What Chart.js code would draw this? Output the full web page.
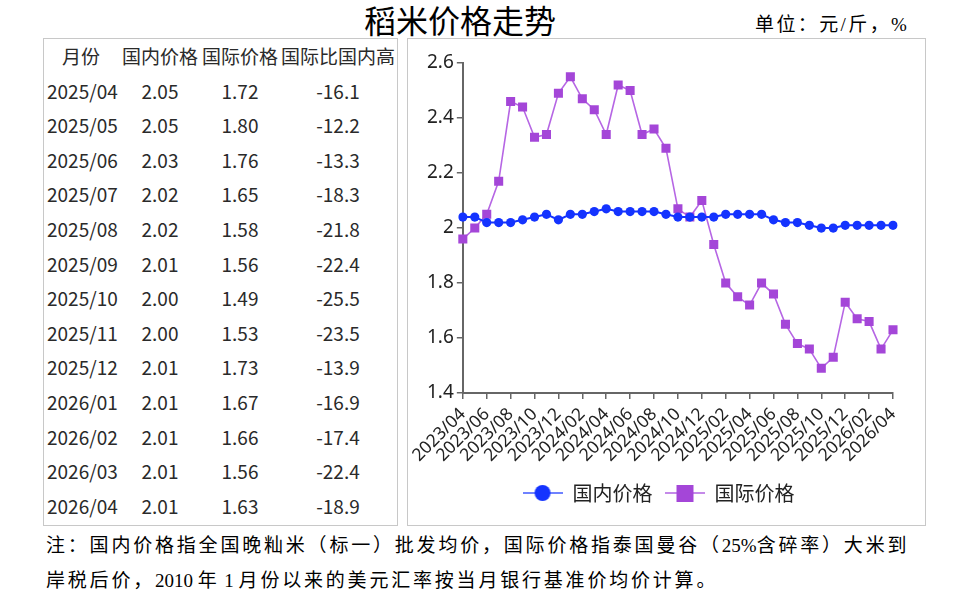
<!DOCTYPE html>
<html>
<head>
<meta charset="utf-8">
<script src="https://cdn.jsdelivr.net/npm/chart.js@4.4.1/dist/chart.umd.min.js"></script>
<style>
    body { margin: 0; width: 965px; height: 598px; background: #fff; position: relative; overflow: hidden;
           font-family: "Noto Sans CJK SC", "Noto Sans", sans-serif; color: #222; }
    #title { position: absolute; left: 310px; width: 300px; top: -4px; text-align: center; font-size: 32px; color: #000; }
    #unit { position: absolute; left: 755px; top: 9px; font-size: 19px; letter-spacing: 2.4px; font-family: "Liberation Serif", "Noto Sans CJK SC", serif; color: #000; }
    #table-box { position: absolute; left: 43px; top: 38px; width: 353px; height: 486px; border: 1px solid #c8c8c8; }
    #table-box .cell { position: absolute; font-size: 19px; line-height: 34.6px; white-space: nowrap; color: #2a2a2a; }
    #chart-box { position: absolute; left: 407px; top: 38px; width: 517px; height: 486px; border: 1px solid #c8c8c8; }
    #chart-wrap { position: absolute; left: 0; top: 0; width: 517px; height: 486px; }
    .note { position: absolute; left: 46px; font-size: 19px; color: #000; white-space: nowrap;
            font-family: "Liberation Serif", "Noto Sans CJK SC", serif; letter-spacing: 2.8px; }
    .note .n { letter-spacing: 0; }
</style>
</head>
<body>
<div id="title">稻米价格走势</div>
<div id="unit">单位：元/斤，%</div>
<div id="table-box"></div>
<div id="chart-box"><div id="chart-wrap"><canvas id="riceChart"></canvas></div></div>
<div class="note" style="top:530px;">注：国内价格指全国晚籼米（标一）批发均价，国际价格指泰国曼谷（<span class="n">25%</span>含碎率）大米到</div>
<div class="note" style="top:565px;">岸税后价，<span class="n">2010 </span>年<span class="n"> 1 </span>月份以来的美元汇率按当月银行基准价均价计算。</div>

<script>
    // ------------------ DATA ------------------
    const months = [
        '2023/04', '2023/05', '2023/06', '2023/07', '2023/08', '2023/09', '2023/10', '2023/11', '2023/12',
        '2024/01', '2024/02', '2024/03', '2024/04', '2024/05', '2024/06', '2024/07', '2024/08', '2024/09',
        '2024/10', '2024/11', '2024/12', '2025/01', '2025/02', '2025/03', '2025/04', '2025/05', '2025/06',
        '2025/07', '2025/08', '2025/09', '2025/10', '2025/11', '2025/12', '2026/01', '2026/02', '2026/03',
        '2026/04'
    ];
    const domesticPrice = [
        2.04, 2.04, 2.02, 2.02, 2.02, 2.03, 2.04, 2.05, 2.03,
        2.05, 2.05, 2.06, 2.07, 2.06, 2.06, 2.06, 2.06, 2.05,
        2.04, 2.04, 2.04, 2.04, 2.05, 2.05, 2.05, 2.05, 2.03,
        2.02, 2.02, 2.01, 2.00, 2.00, 2.01, 2.01, 2.01, 2.01,
        2.01
    ];
    const intlPrice = [
        1.96, 2.00, 2.05, 2.17, 2.46, 2.44, 2.33, 2.34, 2.49,
        2.55, 2.47, 2.43, 2.34, 2.52, 2.50, 2.34, 2.36, 2.29,
        2.07, 2.04, 2.10, 1.94, 1.80, 1.75, 1.72, 1.80, 1.76,
        1.65, 1.58, 1.56, 1.49, 1.53, 1.73, 1.67, 1.66, 1.56,
        1.63
    ];
    // table: last 13 months
    const tableMonths = ['2025/04', '2025/05', '2025/06', '2025/07', '2025/08', '2025/09', '2025/10',
                         '2025/11', '2025/12', '2026/01', '2026/02', '2026/03', '2026/04'];
    const tableDomestic = ['2.05', '2.05', '2.03', '2.02', '2.02', '2.01', '2.00', '2.00', '2.01', '2.01', '2.01', '2.01', '2.01'];
    const tableIntl = ['1.72', '1.80', '1.76', '1.65', '1.58', '1.56', '1.49', '1.53', '1.73', '1.67', '1.66', '1.56', '1.63'];
    const tableGap = ['-16.1', '-12.2', '-13.3', '-18.3', '-21.8', '-22.4', '-25.5', '-23.5', '-13.9', '-16.9', '-17.4', '-22.4', '-18.9'];
    const tableHeaders = ['月份', '国内价格', '国际价格', '国际比国内高'];
    const yTicks = [1.4, 1.6, 1.8, 2.0, 2.2, 2.4, 2.6];

    const BLUE = '#1433ff';
    const PURPLE = '#a446d8';
    const PURPLE_LINE = '#b666e4';

    // ------------------ TABLE ------------------
    const tableBox = document.getElementById('table-box');
    const colCenters = [37, 116, 196, 294];   // relative to box left
    function addCell(text, row, col, alignLeft) {
        const el = document.createElement('div');
        el.className = 'cell';
        el.textContent = text;
        el.style.top = (34.6 * row) + 'px';
        if (alignLeft) {
            el.style.left = '3px';
        } else {
            el.style.left = (colCenters[col] - 60) + 'px';
            el.style.width = '120px';
            el.style.textAlign = 'center';
        }
        tableBox.appendChild(el);
    }
    tableHeaders.forEach((h, c) => addCell(h, 0, c, false));
    tableMonths.forEach((m, i) => {
        addCell(m, i + 1, 0, true);
        addCell(tableDomestic[i], i + 1, 1, false);
        addCell(tableIntl[i], i + 1, 2, false);
        addCell(tableGap[i], i + 1, 3, false);
    });

    // ------------------ LEGEND MARKERS ------------------
    function legendMark(fill, line, shape) {
        const c = document.createElement('canvas');
        c.width = 40; c.height = 20;
        const g = c.getContext('2d');
        g.strokeStyle = line; g.lineWidth = 2;
        g.beginPath(); g.moveTo(0, 10); g.lineTo(40, 10); g.stroke();
        g.fillStyle = fill;
        if (shape === 'circle') {
            g.beginPath(); g.arc(20, 10, 8, 0, Math.PI * 2); g.fill();
        } else {
            g.fillRect(12, 2, 17, 17);
        }
        return c;
    }
    const markDomestic = legendMark(BLUE, '#6f82ff', 'circle');
    const markIntl = legendMark(PURPLE, '#c58ae9', 'rect');

    // ------------------ CHART ------------------
    const ctx = document.getElementById('riceChart').getContext('2d');
    new Chart(ctx, {
        type: 'line',
        data: {
            labels: months,
            datasets: [{
                label: '国内价格',
                data: domesticPrice,
                borderColor: BLUE,
                backgroundColor: BLUE,
                pointBackgroundColor: BLUE,
                pointBorderWidth: 0,
                pointStyle: 'circle',
                pointRadius: 4.6,
                borderWidth: 2,
                tension: 0
            }, {
                label: '国际价格',
                data: intlPrice,
                borderColor: PURPLE_LINE,
                backgroundColor: PURPLE,
                pointBackgroundColor: PURPLE,
                pointBorderWidth: 0,
                pointStyle: 'rect',
                pointRadius: 6.4,
                borderWidth: 1.6,
                tension: 0
            }]
        },
        options: {
            responsive: true,
            maintainAspectRatio: false,
            animation: false,
            layout: { padding: { top: 24, right: 32, left: 16, bottom: 12 } },
            scales: {
                x: {
                    offset: false,
                    grid: { drawOnChartArea: false, drawTicks: true, tickLength: 6, color: '#666', lineWidth: 1.5 },
                    border: { color: '#666', width: 2 },
                    ticks: {
                        autoSkip: false, maxRotation: 45, minRotation: 45, color: '#222', padding: 5,
                        font: { family: '"Noto Sans", sans-serif', size: 17.5 },
                        callback: (v, i) => (i % 2 === 0 ? months[i] : null)
                    }
                },
                y: {
                    min: 1.4, max: 2.6,
                    afterBuildTicks: axis => { axis.ticks = yTicks.map(v => ({ value: v })); },
                    grid: { drawOnChartArea: false, drawTicks: true, tickLength: 6, color: '#666', lineWidth: 1.5 },
                    border: { color: '#666', width: 2 },
                    ticks: {
                        color: '#222', padding: 3,
                        font: { family: '"Noto Sans", sans-serif', size: 19 },
                        callback: v => String(Number(v.toFixed(1)))
                    }
                }
            },
            plugins: {
                tooltip: { enabled: false },
                legend: {
                    position: 'bottom',
                    labels: {
                        usePointStyle: true,
                        pointStyleWidth: 40,
                        padding: 12,
                        color: '#222',
                        font: { family: '"Noto Sans CJK SC", sans-serif', size: 20 },
                        generateLabels: () => [
                            { text: '国内价格', pointStyle: markDomestic, fillStyle: BLUE, strokeStyle: BLUE, lineWidth: 0, hidden: false, datasetIndex: 0, fontColor: '#222' },
                            { text: '国际价格', pointStyle: markIntl, fillStyle: PURPLE, strokeStyle: PURPLE, lineWidth: 0, hidden: false, datasetIndex: 1, fontColor: '#222' }
                        ]
                    }
                }
            }
        }
    });
</script>
</body>
</html>
